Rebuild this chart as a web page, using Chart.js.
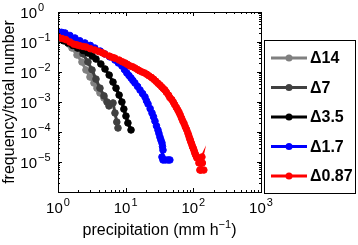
<!DOCTYPE html>
<html lang="en">
<head>
    <meta charset="UTF-8">
    <title>Precipitation frequency</title>
    <style>
        body { margin: 0; background: #fff; }
        canvas { display: block; }
    </style>
</head>
<body>
    <canvas id="precipChart" width="358" height="245"></canvas>

    <script src="https://cdn.jsdelivr.net/npm/chart.js"></script>
    <script>
        // tick exponents (labels are 10^n)
        const xTickExps = [0, 1, 2, 3];
        const yTickExps = [0, -1, -2, -3, -4, -5];

        const seriesLabels = ['Δ14', 'Δ7', 'Δ3.5', 'Δ1.7', 'Δ0.87'];

        // values
        const d14X = [1.0, 1.13, 1.27, 1.45, 1.61, 1.91, 2.26, 2.59, 2.97, 3.4, 3.77, 4.17, 4.78];
        const d14Y = [0.158, 0.13, 0.108, 0.085, 0.063, 0.037, 0.0215, 0.0117, 0.0068, 0.0043, 0.0029, 0.002, 0.00136];

        const d7X = [1.0, 1.2, 1.4, 1.65, 1.91, 2.34, 2.77, 3.18, 3.64, 4.17, 4.78, 5.3, 5.67, 6.5, 6.95, 7.4, 7.7];
        const d7Y = [0.147, 0.12, 0.1, 0.08, 0.063, 0.04, 0.0215, 0.0117, 0.0058, 0.0029, 0.0016, 0.001, 0.00074, 0.00093, 0.00043, 0.000215, 0.000136];

        const d35X = [1.0, 1.2, 1.4, 1.65, 1.97, 2.35, 2.77, 3.2, 3.64, 4.3, 4.95, 5.7, 6.5, 7.2, 8.0, 8.8, 9.4, 10.1, 10.8, 12.0];
        const d35Y = [0.136, 0.11, 0.093, 0.077, 0.063, 0.052, 0.043, 0.034, 0.027, 0.0185, 0.0126, 0.0079, 0.0046, 0.0029, 0.0017, 0.001, 0.00058, 0.00034, 0.0002, 0.000117];

        const d17X = [1.0, 1.13, 1.27, 1.5, 1.78, 2.1, 2.5, 3.0, 3.5, 4.2, 4.9, 5.8, 6.95, 7.8, 8.8, 9.6, 10.4, 11.2, 12.0, 12.8, 13.7, 15.0, 16.3, 17.8, 19.3, 20.3, 21.4, 23.0, 24.5, 25.8, 27.1, 28.5, 30.0, 31.0, 32.1, 33.2, 34.4, 35.0, 35.6, 34.4, 35.6, 38.5, 42.2, 45.0];
        const d17Y = [0.22, 0.21, 0.2, 0.165, 0.136, 0.11, 0.093, 0.077, 0.063, 0.05, 0.04, 0.032, 0.025, 0.02, 0.016, 0.012, 0.0093, 0.0076, 0.0063, 0.0052, 0.0043, 0.0033, 0.0025, 0.0019, 0.00147, 0.0011, 0.00086, 0.0006, 0.00043, 0.00032, 0.00023, 0.00016, 0.000117, 0.00009, 0.000068, 0.000054, 0.000043, 0.000033, 0.000025, 0.0000147, 0.0000117, 0.0000117, 0.0000117, 0.0000117];

        const d087X = [1.0, 1.15, 1.3, 1.5, 1.7, 1.9, 2.1, 2.35, 2.6, 3.0, 3.5, 4.0, 4.5, 4.9, 5.7, 6.3, 6.9, 8.0, 8.9, 9.8, 10.6, 11.5, 12.6, 13.7, 15, 16, 17.5, 19, 20.5, 22, 24, 26, 28, 30, 32, 34, 36, 38, 40, 43, 45, 48, 50.5, 53, 56, 59, 61.5, 64, 67, 70, 73, 76, 79.5, 83, 85.5, 88, 90, 92, 94.5, 97, 99.5, 102, 104.5, 107, 110, 113, 121, 134, 128, 136, 125, 143, 130];
        const d087Y = [0.15, 0.13, 0.12, 0.1, 0.085, 0.08, 0.075, 0.071, 0.068, 0.06, 0.054, 0.048, 0.044, 0.04, 0.034, 0.031, 0.029, 0.025, 0.022, 0.02, 0.018, 0.016, 0.015, 0.0136, 0.012, 0.011, 0.01, 0.0093, 0.0084, 0.0075, 0.0066, 0.0057, 0.0049, 0.0042, 0.0037, 0.0032, 0.0028, 0.0025, 0.0021, 0.0017, 0.0014, 0.0012, 0.001, 0.00082, 0.00066, 0.00054, 0.00045, 0.00037, 0.00029, 0.00023, 0.00019, 0.00015, 0.00012, 0.000093, 0.000076, 0.000062, 0.000054, 0.000046, 0.00004, 0.000033, 0.000029, 0.000025, 0.000021, 0.000018, 0.000016, 0.0000136, 0.0000093, 0.0000147, 0.0000093, 0.0000093, 0.0000054, 0.0000054, 0.0000054];

        const seriesX = [d14X, d7X, d35X, d17X, d087X];
        const seriesY = [d14Y, d7Y, d35Y, d17Y, d087Y];
        const seriesColors = ['#808080', '#404040', '#000000', '#0000ff', '#ff0000'];

        const FONT = '"Liberation Sans", Arial, Helvetica, sans-serif';

        function toPoints(xs, ys) {
            return xs.map((x, i) => ({ x: x, y: ys[i] }));
        }

        // draws "10" with a raised exponent; align = 'center' | 'right'
        function drawPow(ctx, exp, x, y, align) {
            const base = '10';
            const sup = String(exp).replace('-', '\u2212');
            ctx.font = '15px ' + FONT;
            const bw = ctx.measureText(base).width;
            ctx.font = '11px ' + FONT;
            const sw = ctx.measureText(sup).width;
            let left;
            if (align === 'center') left = x - (bw + sw + 1) / 2;
            else left = x - bw; // base right edge at x
            ctx.textAlign = 'left';
            ctx.textBaseline = 'alphabetic';
            ctx.font = '15px ' + FONT;
            ctx.fillText(base, left, y);
            ctx.font = '11px ' + FONT;
            ctx.fillText(sup, left + bw + 1, y - 7);
        }

        const framePlugin = {
            id: 'frame',
            afterDraw(chart) {
                const ctx = chart.ctx;
                const a = chart.chartArea;
                const xs = chart.scales.x;
                const ys = chart.scales.y;
                ctx.save();
                ctx.fillStyle = '#000';
                ctx.strokeStyle = '#000';
                ctx.lineWidth = 1;
                ctx.strokeRect(Math.round(a.left) + 0.5, Math.round(a.top) + 0.5,
                    Math.round(a.right - a.left), Math.round(a.bottom - a.top));

                // tick marks pointing inward, major and minor, all four sides
                ctx.beginPath();
                for (let e = 0; e <= 3; e++) {
                    for (let m = 1; m <= 9; m++) {
                        const v = m * Math.pow(10, e);
                        if (v > 1000) break;
                        const px = Math.round(xs.getPixelForValue(v)) + 0.5;
                        const len = m === 1 ? 4 : 2;
                        ctx.moveTo(px, a.bottom); ctx.lineTo(px, a.bottom - len);
                        ctx.moveTo(px, a.top); ctx.lineTo(px, a.top + len);
                    }
                }
                for (let e = -6; e <= 0; e++) {
                    for (let m = 1; m <= 9; m++) {
                        const v = m * Math.pow(10, e);
                        if (v > 1) break;
                        const py = Math.round(ys.getPixelForValue(v)) + 0.5;
                        const len = m === 1 ? 4 : 2;
                        ctx.moveTo(a.left, py); ctx.lineTo(a.left + len, py);
                        ctx.moveTo(a.right, py); ctx.lineTo(a.right - len, py);
                    }
                }
                ctx.stroke();

                // tick labels
                xTickExps.forEach(e => {
                    drawPow(ctx, e, xs.getPixelForValue(Math.pow(10, e)), a.bottom + 21, 'center');
                });
                yTickExps.forEach(e => {
                    drawPow(ctx, e, 37, ys.getPixelForValue(Math.pow(10, e)) + 5.5, 'right');
                });

                // x axis title
                ctx.font = '16px ' + FONT;
                const t1 = 'precipitation (mm h';
                const t2 = '\u22121';
                const t3 = ')';
                const w1 = ctx.measureText(t1).width;
                const w3 = ctx.measureText(t3).width;
                ctx.font = '11px ' + FONT;
                const w2 = ctx.measureText(t2).width;
                let tx = (a.left + a.right) / 2 - (w1 + w2 + w3) / 2;
                const ty = 235;
                ctx.textAlign = 'left';
                ctx.font = '16px ' + FONT;
                ctx.fillText(t1, tx, ty);
                ctx.font = '11px ' + FONT;
                ctx.fillText(t2, tx + w1, ty - 7);
                ctx.font = '16px ' + FONT;
                ctx.fillText(t3, tx + w1 + w2, ty);

                // y axis title
                ctx.save();
                ctx.translate(14, (a.top + a.bottom) / 2);
                ctx.rotate(-Math.PI / 2);
                ctx.textAlign = 'center';
                ctx.font = '16px ' + FONT;
                ctx.fillText('frequency/total number', 0, 0);
                ctx.restore();

                // legend box
                const lx = 264, ly = 40, lw = 91, lh = 153;
                ctx.strokeRect(lx + 0.5, ly + 0.5, lw, lh);
                seriesLabels.forEach((lab, i) => {
                    const ry = 58 + i * 29.5;
                    ctx.strokeStyle = seriesColors[i];
                    ctx.fillStyle = seriesColors[i];
                    ctx.lineWidth = 3;
                    ctx.beginPath();
                    ctx.moveTo(271, ry); ctx.lineTo(307, ry);
                    ctx.stroke();
                    ctx.beginPath();
                    ctx.arc(289, ry, 3.5, 0, Math.PI * 2);
                    ctx.fill();
                    ctx.fillStyle = '#000';
                    ctx.font = 'bold 16px ' + FONT;
                    ctx.textBaseline = 'middle';
                    ctx.fillText(lab, 310, ry + 1);
                    ctx.textBaseline = 'alphabetic';
                });
                ctx.restore();
            }
        };

        const datasets = seriesLabels.map((lab, i) => ({
            label: lab,
            data: toPoints(seriesX[i], seriesY[i]),
            borderColor: seriesColors[i],
            backgroundColor: seriesColors[i],
            borderWidth: 3,
            pointRadius: 3.3,
            pointBorderWidth: 1,
            pointBackgroundColor: seriesColors[i],
            pointBorderColor: seriesColors[i],
            tension: 0,
            order: seriesLabels.length - 1 - i
        }));

        new Chart(document.getElementById('precipChart'), {
            type: 'line',
            data: { datasets: datasets },
            options: {
                responsive: false,
                animation: false,
                events: [],
                layout: { padding: { left: 58, right: 97, top: 12, bottom: 53 } },
                plugins: { legend: { display: false }, tooltip: { enabled: false } },
                scales: {
                    x: { type: 'logarithmic', min: 1, max: 1000, display: false },
                    y: { type: 'logarithmic', min: 1e-6, max: 1, display: false }
                }
            },
            plugins: [framePlugin]
        });
    </script>
</body>
</html>
